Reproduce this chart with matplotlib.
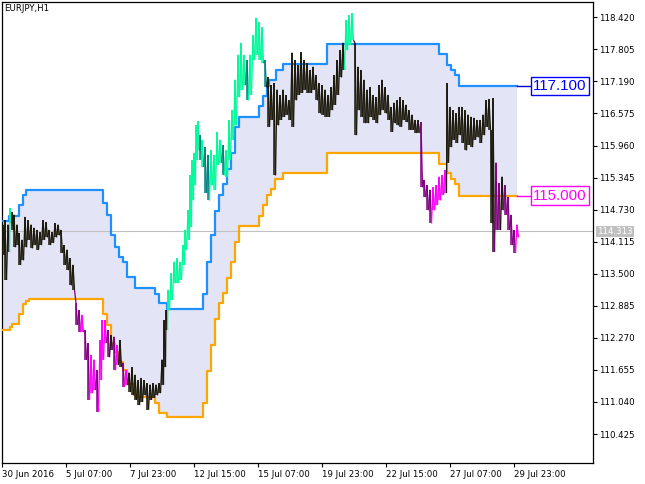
import matplotlib
matplotlib.use("Agg")
import matplotlib.pyplot as plt
import numpy as np
from matplotlib.collections import LineCollection

# ---------------- data ----------------
symbol_title = "EURJPY,H1"
current_price = 114.313

# bar index of each price sample (1 bar = 1 hour)
bar_x = [3, 5, 8, 10, 12, 14, 17, 19, 22, 25, 28, 31, 34, 37, 40, 43, 46, 49, 52, 55,
         58, 61, 64, 67, 70, 73, 76, 79, 82, 85, 88, 91, 94, 97, 100, 102, 105, 108, 111, 114,
         117, 120, 123, 126, 129, 132, 135, 138, 141, 144, 147, 150, 153, 156, 159, 162, 164, 166, 168, 171,
         174, 177, 180, 183, 185, 188, 190, 192, 194, 196, 198, 200, 202, 205, 208, 211, 214, 217, 220, 223,
         226, 229, 232, 235, 238, 241, 244, 247, 250, 253, 256, 259, 262, 265, 268, 271, 274, 277, 280, 283,
         286, 289, 292, 295, 298, 301, 304, 307, 310, 313, 316, 319, 322, 325, 328, 331, 334, 337, 340, 343,
         346, 349, 352, 355, 358, 361, 364, 367, 370, 373, 376, 379, 382, 385, 388, 391, 394, 397, 400, 403,
         406, 409, 412, 415, 418, 421, 424, 427, 430, 433, 436, 439, 442, 445, 447, 450, 453, 456, 459, 462,
         465, 468, 471, 474, 477, 480, 483, 486, 489, 491, 493, 496, 499, 502, 505, 508, 511, 514, 517]

price_high = [114.44, 114.53, 114.44, 114.76, 114.68, 114.63, 114.44, 114.28, 114.15, 114.59, 114.53, 114.44, 114.38, 114.34, 114.30, 114.53, 114.49, 114.34, 114.30, 114.47,
              114.44, 114.34, 114.05, 113.96, 113.80, 113.67, 112.94, 112.80, 112.71, 112.42, 112.17, 111.94, 111.85, 111.65, 112.23, 112.61, 112.61, 112.42, 112.32, 112.29,
              112.13, 112.23, 111.79, 111.65, 111.60, 111.71, 111.56, 111.46, 111.50, 111.46, 111.40, 111.37, 111.40, 111.37, 111.40, 111.85, 112.61, 112.80, 113.19, 113.51,
              113.73, 113.80, 113.73, 114.05, 114.34, 114.72, 115.39, 115.68, 115.82, 116.35, 116.43, 116.16, 116.07, 115.93, 115.78, 115.87, 115.78, 116.22, 116.07, 115.97,
              115.87, 116.45, 116.64, 117.22, 117.70, 117.93, 117.70, 117.60, 117.70, 118.08, 118.41, 118.33, 118.23, 117.60, 117.27, 117.12, 117.16, 117.03, 116.93, 117.03,
              116.93, 116.83, 117.74, 117.60, 117.50, 117.75, 117.60, 117.54, 117.41, 117.47, 117.31, 117.16, 117.12, 117.03, 116.93, 117.08, 117.31, 117.60, 117.79, 117.93,
              118.37, 118.46, 118.50, 117.93, 117.47, 117.41, 117.22, 117.03, 117.08, 116.93, 116.89, 117.12, 117.22, 117.08, 116.93, 116.70, 116.78, 116.83, 116.89, 116.83,
              116.74, 116.64, 116.55, 116.45, 116.45, 116.41, 115.30, 115.20, 115.11, 115.16, 115.20, 115.36, 115.39, 115.49, 117.16, 116.70, 116.64, 116.58, 116.70, 116.70,
              116.64, 116.55, 116.51, 116.49, 116.45, 116.45, 116.55, 116.83, 116.85, 116.26, 116.87, 115.63, 115.24, 115.36, 115.20, 114.97, 114.63, 114.34, 114.44]

price_low = [113.86, 113.38, 113.92, 114.47, 114.34, 114.01, 114.05, 113.67, 113.76, 114.01, 114.15, 113.99, 114.05, 113.96, 114.05, 114.15, 114.20, 114.05, 114.09, 114.20,
             114.24, 113.90, 113.67, 113.57, 113.28, 113.19, 112.52, 112.38, 112.38, 111.85, 111.08, 111.21, 111.27, 110.85, 111.46, 111.85, 112.17, 111.90, 112.04, 111.65,
             111.75, 111.71, 111.33, 111.37, 111.23, 111.17, 111.08, 110.98, 111.04, 111.17, 110.89, 111.08, 111.12, 111.17, 111.21, 111.37, 111.71, 112.42, 112.80, 113.00,
             113.32, 113.32, 113.38, 113.67, 113.96, 114.15, 114.40, 114.91, 115.20, 115.68, 115.87, 115.68, 115.55, 115.05, 114.91, 115.20, 115.11, 115.59, 115.63, 115.39,
             115.36, 115.68, 116.07, 116.35, 116.89, 117.03, 117.12, 116.83, 116.93, 117.60, 117.70, 117.60, 117.54, 117.08, 116.32, 116.45, 115.39, 116.35, 116.45, 116.51,
             116.55, 116.45, 116.32, 116.83, 116.93, 116.97, 117.03, 116.97, 116.97, 117.03, 116.83, 116.58, 116.55, 116.51, 116.51, 116.64, 116.74, 116.93, 117.27, 117.41,
             117.79, 117.89, 117.98, 116.16, 116.64, 116.51, 116.39, 116.39, 116.51, 116.45, 116.39, 116.55, 116.64, 116.58, 116.45, 116.22, 116.39, 116.35, 116.32, 116.45,
             116.41, 116.26, 116.26, 116.20, 116.20, 115.16, 114.97, 114.72, 114.47, 114.72, 114.82, 114.91, 115.01, 115.05, 115.63, 115.93, 116.07, 116.01, 116.16, 116.01,
             115.87, 115.97, 115.93, 116.07, 116.12, 116.01, 116.16, 116.32, 116.26, 114.47, 113.92, 114.34, 114.34, 114.72, 114.63, 114.34, 114.05, 113.90, 114.20]

# channel (step lines): bar where each level starts, and level
band_end = 517
upper_x = [2, 9, 19, 23, 26, 103, 107, 111, 115, 119, 123, 127, 135, 155, 159, 167, 203, 207, 211, 215,
           219, 223, 227, 231, 235, 239, 259, 263, 267, 269, 276, 283, 327, 439, 447, 451, 455, 459]
upper_val = [114.517, 114.613, 114.819, 115.011, 115.107, 114.851, 114.627, 114.243, 114.019, 113.821,
             113.731, 113.428, 113.220, 113.111, 112.933, 112.823, 113.111, 113.719, 114.243, 114.709,
             115.011, 115.222, 115.504, 115.822, 116.321, 116.513, 116.718, 116.910, 117.102, 117.217,
             117.409, 117.518, 117.913, 117.716, 117.505, 117.409, 117.313, 117.100]
lower_x = [2, 10, 12, 19, 23, 26, 29, 103, 107, 111, 115, 119, 123, 127, 135, 155, 159, 167, 203, 207,
           211, 215, 219, 223, 227, 231, 235, 239, 259, 263, 267, 271, 275, 283, 327, 439, 447, 451, 455, 459]
lower_val = [112.420, 112.484, 112.530, 112.727, 112.919, 112.983, 113.015, 112.727, 112.516, 112.152,
             112.004, 111.812, 111.653, 111.380, 111.144, 111.020, 110.834, 110.742, 111.026, 111.634,
             112.133, 112.626, 112.944, 113.124, 113.412, 113.731, 114.103, 114.420, 114.608, 114.819,
             115.011, 115.120, 115.312, 115.427, 115.822, 115.605, 115.427, 115.312, 115.222, 115.000]

y_ticks = [118.420, 117.805, 117.190, 116.575, 115.960, 115.345, 114.730, 114.115,
           113.500, 112.885, 112.270, 111.655, 111.040, 110.425]
x_tick_pos = [2, 66, 130, 194, 258, 322, 386, 450, 514]
x_tick_labels = ["30 Jun 2016", "5 Jul 07:00", "7 Jul 23:00", "12 Jul 15:00", "15 Jul 07:00",
                 "19 Jul 23:00", "22 Jul 15:00", "27 Jul 07:00", "29 Jul 23:00"]

# ---------------- styles ----------------
C_UP = "#1E90FF"
C_DN = "#FFA500"
C_FILL = "#E4E4F7"
C_NEUT = "#1C1A0C"
C_BULL, C_BULL_D = "#00FA9A", "#008080"
C_BEAR, C_BEAR_D = "#FF00FF", "#800080"
SMALL = 6.2

W, H = 645, 484
fig = plt.figure(figsize=(W / 100, H / 100), dpi=100)
ax = fig.add_axes([2 / W, (H - 463.3) / H, 591 / W, 461.3 / H])
ax.set_xlim(2, 593)
ax.set_ylim(109.863, 118.714)

# channel
ux = np.array(upper_x + [band_end], float)
uv = np.array(upper_val + [upper_val[-1]])
lx = np.array(lower_x + [band_end], float)
lv = np.array(lower_val + [lower_val[-1]])
grid = np.union1d(ux, lx)
ug = uv[np.searchsorted(ux, grid, side="right") - 1]
lg = lv[np.searchsorted(lx, grid, side="right") - 1]
ax.fill_between(grid, lg, ug, step="post", color=C_FILL, lw=0, zorder=1)
ax.step(ux, uv, where="post", color=C_UP, lw=1.6, zorder=3)
ax.step(lx, lv, where="post", color=C_DN, lw=1.6, zorder=3)

# current price line
ax.axhline(current_price, color="#C0C0C0", lw=0.8, zorder=2)

# price bars
bx = np.array(bar_x, float)
hi = np.array(price_high)
lo = np.array(price_low)
mid = (hi + lo) / 2
u_at = uv[np.searchsorted(ux, bx, side="right") - 1]
l_at = lv[np.searchsorted(lx, bx, side="right") - 1]
falling = np.r_[False, mid[1:] < mid[:-1] - 0.12]
cols = []
for m, u, l, f in zip(mid, u_at, l_at, falling):
    if m > u:
        cols.append(C_BULL_D if f else C_BULL)
    elif m < l:
        cols.append(C_BEAR_D if f else C_BEAR)
    else:
        cols.append(C_NEUT)

segs, scol = [], []
for i in range(len(bx)):
    segs.append([(bx[i], hi[i]), (bx[i] + 1.5, lo[i])])
    scol.append(cols[i])
    if i + 1 < len(bx):
        segs.append([(bx[i] + 1.5, lo[i]), (bx[i + 1], hi[i + 1])])
        scol.append(cols[i + 1])
ax.add_collection(LineCollection(segs, colors=scol, linewidths=0.9, zorder=4))
ax.vlines(bx, lo, hi, colors=cols, linewidth=1.1, zorder=4)

# channel labels
label_gap = 14
for val, col, lcol in [(upper_val[-1], "#0000FF", "#0000C8"), (lower_val[-1], "#FF00FF", "#FF00FF")]:
    ax.plot([band_end, band_end + label_gap], [val, val], color=lcol, lw=1.0, zorder=3)
    ax.text(band_end + label_gap + 2, val, f"{val:.3f}", color=col, fontsize=10.8,
            family=["Liberation Sans", "DejaVu Sans"], va="center", ha="left", zorder=5,
            bbox=dict(boxstyle="square,pad=0.15", fc="white", ec=col, lw=1.0))

# title
ax.text(0.004, 0.995, symbol_title, transform=ax.transAxes, fontsize=SMALL, va="top", ha="left")

# axes
for s in ax.spines.values():
    s.set_color("black")
    s.set_linewidth(0.9)
ax.yaxis.tick_right()
ax.set_yticks(y_ticks)
ax.set_yticklabels([f"{v:.3f}" for v in y_ticks], fontsize=SMALL)
ax.set_xticks(x_tick_pos)
ax.set_xticklabels(x_tick_labels, fontsize=SMALL, ha="left")
ax.tick_params(axis="both", direction="out", length=3, width=0.8, pad=1.5, colors="black")

# current price tag
ax.annotate(f"{current_price:.3f}", xy=(1, current_price), xycoords=("axes fraction", "data"),
            xytext=(3, 0), textcoords="offset points", fontsize=SMALL, color="white",
            va="center", ha="left", zorder=6,
            bbox=dict(boxstyle="square,pad=0.12", fc="#C0C0C0", ec="none"),
            annotation_clip=False)

fig.savefig("out.png", dpi=100)
